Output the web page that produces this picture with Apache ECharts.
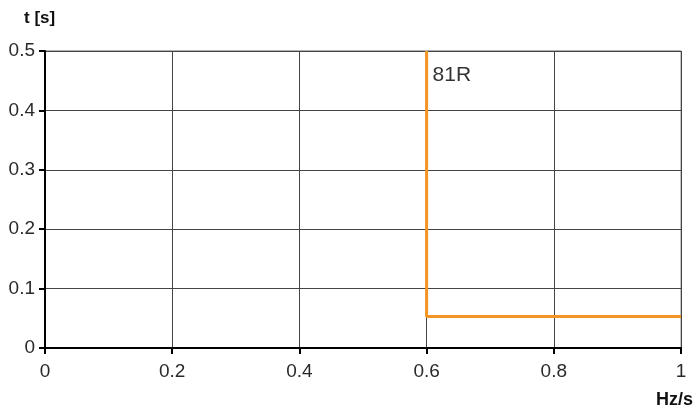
<!DOCTYPE html>
<html>
<head>
<meta charset="utf-8">
<style>
  html, body { margin: 0; padding: 0; background: #fff; }
  #chart { width: 695px; height: 410px; }
</style>
<script src="https://cdn.jsdelivr.net/npm/echarts@6/dist/echarts.min.js"></script>
</head>
<body>
<div id="chart"></div>
<script>
// curve 81R: step at 0.6 Hz/s
const curveX = [0.6, 0.6, 1]
const curveT = [0.5, 0.053, 0.053]
const curveName = '81R'

const font = '"Liberation Sans", Arial, sans-serif'
const myChart = echarts.init(document.getElementById('chart'))

myChart.setOption({
  animation: false,
  grid: { left: 45, right: 14, top: 51, bottom: 62 },
  xAxis: {
    type: 'value',
    min: 0,
    max: 1,
    interval: 0.2,
    axisLine: { lineStyle: { color: '#000', width: 2 } },
    axisTick: { show: true, length: 6, lineStyle: { color: '#000', width: 2 } },
    axisLabel: { color: '#2a2a2a', fontSize: 19, fontFamily: font, margin: 14 },
    splitLine: { show: true, lineStyle: { color: '#444', width: 1 } }
  },
  yAxis: {
    type: 'value',
    min: 0,
    max: 0.5,
    interval: 0.1,
    axisLine: { show: true, lineStyle: { color: '#000', width: 2 } },
    axisTick: { show: true, length: 6, lineStyle: { color: '#000', width: 2 } },
    axisLabel: { color: '#2a2a2a', fontSize: 19, fontFamily: font, margin: 10 },
    splitLine: { show: true, lineStyle: { color: '#444', width: 1 } }
  },
  graphic: [
    { type: 'text', left: 24, top: 10, style: { text: 't [s]', font: 'bold 17px ' + font, fill: '#111' } },
    { type: 'text', left: 656, top: 391, style: { text: 'Hz/s', font: 'bold 18px ' + font, fill: '#111' } },
    { type: 'line', shape: { x1: 45, y1: 51, x2: 681, y2: 51 }, style: { stroke: '#666', lineWidth: 1 } },
    { type: 'line', shape: { x1: 681, y1: 51, x2: 681, y2: 348 }, style: { stroke: '#888', lineWidth: 1 } }
  ],
  series: [
    {
      name: curveName,
      type: 'line',
      symbol: 'circle',
      symbolSize: 0,
      lineStyle: { color: '#f39423', width: 3 },
      data: curveX.map((x, i) => {
        const item = { value: [x, curveT[i]] }
        if (i === 0) {
          item.label = {
            show: true,
            formatter: curveName,
            position: 'right',
            distance: 0,
            offset: [6, 24],
            color: '#333',
            fontSize: 21,
            fontFamily: font
          }
        }
        return item
      })
    }
  ]
})
</script>
</body>
</html>
